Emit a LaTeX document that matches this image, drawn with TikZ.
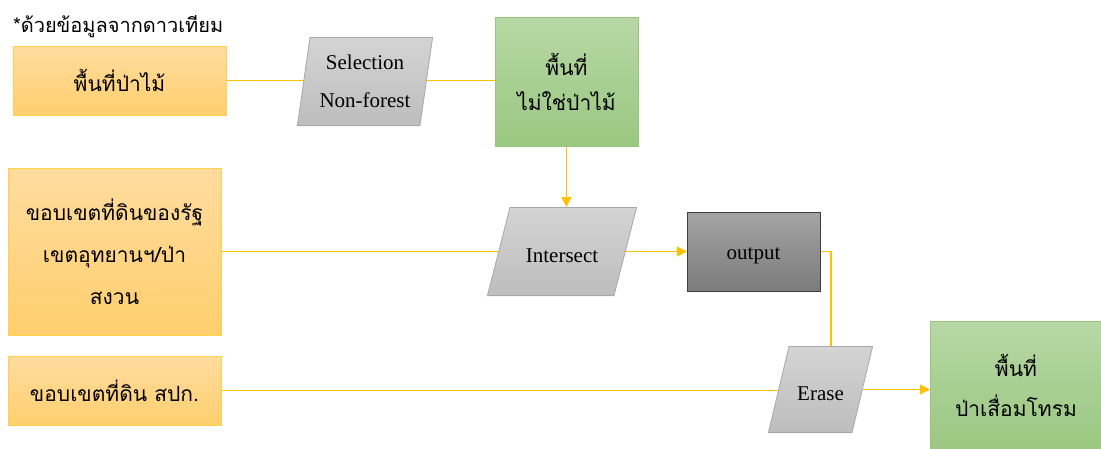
\documentclass[tikz,border=0pt]{standalone}
\usepackage{fontspec}
\setmainfont{Liberation Serif}
\newfontfamily\thai[Script=Thai]{Loma}
\usetikzlibrary{arrows.meta,calc}
\pgfdeclarelayer{bg}
\pgfsetlayers{bg,main}

\definecolor{linegold}{HTML}{FFC000}
\definecolor{orgtop}{HTML}{FFDC9F}
\definecolor{orgbot}{HTML}{FFCF6E}
\definecolor{orgline}{HTML}{FFD24A}
\definecolor{grntop}{HTML}{B7D8A5}
\definecolor{grnbot}{HTML}{9AC781}
\definecolor{grnline}{HTML}{98C57C}
\definecolor{gratop}{HTML}{D4D4D4}
\definecolor{grabot}{HTML}{BDBDBD}
\definecolor{graline}{HTML}{A8A8A8}
\definecolor{drktop}{HTML}{A4A4A4}
\definecolor{drkbot}{HTML}{7B7B7B}
\definecolor{drkline}{HTML}{3F3F3F}

\tikzset{
  base/.style={inner sep=0pt, outer sep=0pt, align=center, text=black},
  thaitxt/.style={font=\thai\fontsize{21}{#1}\selectfont},
  lattxt/.style={font=\fontsize{21}{#1}\selectfont},
  inbox/.style={base, draw=orgline, line width=0.8pt, top color=orgtop, bottom color=orgbot},
  resbox/.style={base, draw=grnline, line width=0.8pt, top color=grntop, bottom color=grnbot},
  outbox/.style={base, draw=drkline, line width=0.8pt, top color=drktop, bottom color=drkbot},
  para/.style={base, path picture={
    \shade[top color=gratop, bottom color=grabot, draw=graline, line width=0.8pt]
      ([xshift=#1pt,yshift=-0.4pt]path picture bounding box.north west)
      -- ([xshift=-0.4pt,yshift=-0.4pt]path picture bounding box.north east)
      -- ([xshift=-#1pt,yshift=0.4pt]path picture bounding box.south east)
      -- ([xshift=0.4pt,yshift=0.4pt]path picture bounding box.south west) -- cycle;}},
  flow/.style={draw=linegold, line width=1.1pt},
  flowarr/.style={flow, -{Triangle[length=10pt,width=10pt]}},
}
% single Latin words sit a little below the box centre
\newcommand{\lowword}[1]{\raisebox{-4pt}[\height][\depth]{#1}}

\begin{document}
\begin{tikzpicture}[x=1pt,y=-1pt]
\useasboundingbox (0,0) rectangle (1101,448);

% caption
\node[base, font=\thai\fontsize{20}{24}\selectfont, anchor=west] (cap) at (13,27) {*ด้วยข้อมูลจากดาวเทียม};

% input layers
\node[inbox, thaitxt=24, minimum width=213, minimum height=69] (forest) at (119.5,80.5) {พื้นที่ป่าไม้};
\node[inbox, thaitxt=42, minimum width=213, minimum height=167] (state) at (114.5,251.5)
  {ขอบเขตที่ดินของรัฐ\\เขตอุทยานฯ/ป่า\\สงวน};
\node[inbox, thaitxt=24, minimum width=213, minimum height=69] (alro) at (114.5,390.5) {ขอบเขตที่ดิน สปก.};

% processes
\node[para=13, lattxt=38, minimum width=136, minimum height=89] (sel) at (365,81.5) {Selection\\Non-forest};
\node[para=23, lattxt=24, minimum width=150, minimum height=89] (inter) at (562,251.5) {\lowword{Intersect}};
\node[para=21, lattxt=24, minimum width=105, minimum height=87] (erase) at (820.5,389.5) {\lowword{Erase}};

% results
\node[resbox, thaitxt=35, minimum width=143, minimum height=129] (nonf) at (566.5,81.5) {พื้นที่\\ไม่ใช่ป่าไม้};
\node[outbox, lattxt=24, minimum width=133, minimum height=79] (out) at (753.5,251.5) {\lowword{output}};
\node[resbox, thaitxt=40, minimum width=172, minimum height=129] (fin) at (1016,385.5) {พื้นที่\\ป่าเสื่อมโทรม};

% connectors
\begin{pgfonlayer}{bg}
  \draw[flow] (forest.east) -- (forest.east -| sel.center) -- (forest.east -| nonf.west);
  \draw[flowarr] (nonf.south) -- (nonf.south |- inter.north);
  \draw[flow] (state.east) -- (inter.center);
  \draw[flowarr] (inter.center) -- (out.west);
  \draw[flow] (out.east) -- ++(11,0) coordinate (turn) -- (turn |- erase.north);
  \draw[flow] (alro.east) -- (alro.east -| erase.center);
  \draw[flowarr] (erase.center) -- (erase.center -| fin.west);
\end{pgfonlayer}
\end{tikzpicture}
\end{document}
